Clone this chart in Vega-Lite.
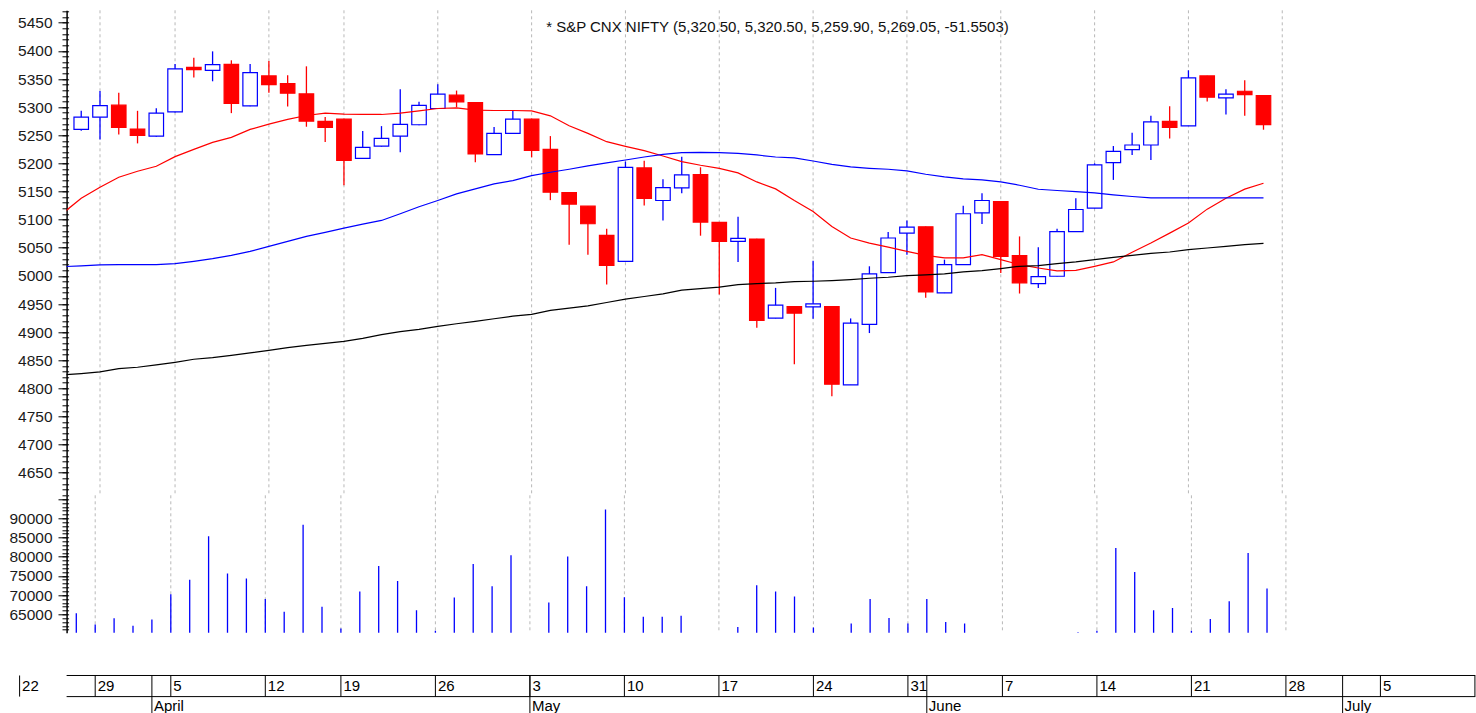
{
  "$schema": "https://vega.github.io/schema/vega-lite/v6.json",
  "background": "white",
  "padding": {"left": 8.6, "top": 9.3, "right": 0, "bottom": 0},
  "config": {"view": {"stroke": null}, "font": "Liberation Sans"},
  "spacing": 0,
  "bounds": "flush",
  "datasets": {
    "nifty": [
      {"d":"2010-03-25","i":-1,"m20":5111,"m50":5016.5,"m200":4824},
      {"d":"2010-03-26","i":0,"o":5260.4,"h":5293.5,"l":5258,"c":5282.3,"v":65270,"m20":5138,"m50":5017.7,"m200":4826.4},
      {"d":"2010-03-29","i":1,"o":5282.3,"h":5328.9,"l":5242.7,"c":5302.9,"v":62380,"m20":5157.7,"m50":5019.5,"m200":4829.3},
      {"d":"2010-03-30","i":2,"o":5303.5,"h":5325.4,"l":5251.6,"c":5264.0,"v":63960,"m20":5175.4,"m50":5020.1,"m200":4835.2},
      {"d":"2010-03-31","i":3,"o":5261.0,"h":5293.5,"l":5235.6,"c":5249.8,"v":62030,"m20":5186,"m50":5020,"m200":4837.6},
      {"d":"2010-04-01","i":4,"o":5248.6,"h":5298.2,"l":5247.5,"c":5289.4,"v":63690,"m20":5194.9,"m50":5020,"m200":4841.7},
      {"d":"2010-04-05","i":5,"o":5291.7,"h":5376.8,"l":5290.5,"c":5367.9,"v":70250,"m20":5212,"m50":5021.8,"m200":4846.4},
      {"d":"2010-04-06","i":6,"o":5370.9,"h":5388.0,"l":5352.6,"c":5366.7,"v":74010,"m20":5225,"m50":5026,"m200":4851.8},
      {"d":"2010-04-07","i":7,"o":5365.5,"h":5399.2,"l":5346.0,"c":5375.6,"v":85370,"m20":5237.4,"m50":5030.7,"m200":4854.7},
      {"d":"2010-04-08","i":8,"o":5376.2,"h":5383.3,"l":5289.4,"c":5306.5,"v":75670,"m20":5246.3,"m50":5036.6,"m200":4858.8},
      {"d":"2010-04-09","i":9,"o":5302.4,"h":5376.8,"l":5301.5,"c":5361.4,"v":74360,"m20":5260.4,"m50":5043.7,"m200":4863},
      {"d":"2010-04-12","i":10,"o":5355.5,"h":5382.0,"l":5325.4,"c":5340.2,"v":69020,"m20":5269.9,"m50":5052.5,"m200":4867.7},
      {"d":"2010-04-13","i":11,"o":5341.9,"h":5356.7,"l":5301.2,"c":5324.8,"v":65700,"m20":5278.2,"m50":5061.4,"m200":4872.4},
      {"d":"2010-04-15","i":12,"o":5323.6,"h":5372.6,"l":5265.2,"c":5275.2,"v":88340,"m20":5285.2,"m50":5070.2,"m200":4876.6},
      {"d":"2010-04-16","i":13,"o":5274.6,"h":5282.3,"l":5238.0,"c":5264.0,"v":67010,"m20":5289.4,"m50":5077.3,"m200":4880.1},
      {"d":"2010-04-19","i":14,"o":5278.7,"h":5279.5,"l":5161.2,"c":5205.5,"v":61330,"m20":5287.6,"m50":5085,"m200":4883.6},
      {"d":"2010-04-20","i":15,"o":5209.0,"h":5257.5,"l":5208.0,"c":5228.5,"v":70950,"m20":5287,"m50":5092,"m200":4889},
      {"d":"2010-04-21","i":16,"o":5230.9,"h":5266.3,"l":5230.0,"c":5244.5,"v":77590,"m20":5287,"m50":5098.6,"m200":4895.5},
      {"d":"2010-04-22","i":17,"o":5248.6,"h":5331.9,"l":5219.7,"c":5269.3,"v":73660,"m20":5289.4,"m50":5110.5,"m200":4900.8},
      {"d":"2010-04-23","i":18,"o":5268.7,"h":5309.4,"l":5268.0,"c":5303.0,"v":66050,"m20":5293.5,"m50":5122.9,"m200":4904.9},
      {"d":"2010-04-26","i":19,"o":5297.6,"h":5340.7,"l":5297.0,"c":5323.0,"v":60720,"m20":5297.6,"m50":5134.1,"m200":4910.2},
      {"d":"2010-04-27","i":20,"o":5321.3,"h":5329.5,"l":5300.0,"c":5309.4,"v":69370,"m20":5298.8,"m50":5145.9,"m200":4915},
      {"d":"2010-04-28","i":21,"o":5308.3,"h":5309.0,"l":5202.0,"c":5216.7,"v":78110,"m20":5294.7,"m50":5154.7,"m200":4919.1},
      {"d":"2010-04-29","i":22,"o":5215.6,"h":5264.6,"l":5215.0,"c":5253.4,"v":72350,"m20":5294.1,"m50":5163.6,"m200":4923.8},
      {"d":"2010-04-30","i":23,"o":5253.4,"h":5293.5,"l":5253.0,"c":5278.7,"v":80390,"m20":5294.1,"m50":5169.5,"m200":4928.5},
      {"d":"2010-05-03","i":24,"o":5278.7,"h":5279.5,"l":5210.8,"c":5223.2,"v":59000,"m20":5293.5,"m50":5178.4,"m200":4931.5},
      {"d":"2010-05-04","i":25,"o":5225.0,"h":5248.6,"l":5134.7,"c":5148.8,"v":68060,"m20":5284.6,"m50":5184.3,"m200":4938.6},
      {"d":"2010-05-05","i":26,"o":5148.2,"h":5149.0,"l":5055.5,"c":5127.6,"v":80040,"m20":5266.9,"m50":5189.6,"m200":4942.7},
      {"d":"2010-05-06","i":27,"o":5124.0,"h":5124.5,"l":5037.8,"c":5092.7,"v":72350,"m20":5253.4,"m50":5195.5,"m200":4946.8},
      {"d":"2010-05-07","i":28,"o":5072.0,"h":5083.9,"l":4984.6,"c":5018.9,"v":92270,"m20":5238.6,"m50":5200.8,"m200":4952.7},
      {"d":"2010-05-10","i":29,"o":5026.0,"h":5203.2,"l":5025.0,"c":5193.1,"v":69460,"m20":5230.3,"m50":5206.1,"m200":4958.6},
      {"d":"2010-05-11","i":30,"o":5191.9,"h":5204.9,"l":5125.2,"c":5137.6,"v":64390,"m20":5222.6,"m50":5211.4,"m200":4963.4},
      {"d":"2010-05-12","i":31,"o":5134.1,"h":5171.9,"l":5098.6,"c":5157.1,"v":64390,"m20":5213.2,"m50":5216.1,"m200":4968.1},
      {"d":"2010-05-13","i":32,"o":5156.5,"h":5212.0,"l":5147.0,"c":5179.5,"v":64650,"m20":5203.2,"m50":5219.1,"m200":4974.6},
      {"d":"2010-05-14","i":33,"o":5180.1,"h":5193.1,"l":5071.5,"c":5095.7,"v":59000,"m20":5196.7,"m50":5219.7,"m200":4977.5},
      {"d":"2010-05-17","i":34,"o":5095.1,"h":5095.5,"l":4966.9,"c":5061.4,"v":59000,"m20":5191.3,"m50":5219.1,"m200":4979.9},
      {"d":"2010-05-18","i":35,"o":5061.4,"h":5105.1,"l":5024.8,"c":5066.8,"v":61680,"m20":5183.1,"m50":5217.9,"m200":4984.6},
      {"d":"2010-05-19","i":36,"o":5065.6,"h":5066.0,"l":4907.9,"c":4920.8,"v":72610,"m20":5167.1,"m50":5215,"m200":4986.4},
      {"d":"2010-05-20","i":37,"o":4925.0,"h":4978.7,"l":4924.5,"c":4948.0,"v":70950,"m20":5154.7,"m50":5211.4,"m200":4987.6},
      {"d":"2010-05-21","i":38,"o":4945.6,"h":4946.0,"l":4842.9,"c":4933.8,"v":69640,"m20":5134.1,"m50":5209.7,"m200":4989.9},
      {"d":"2010-05-24","i":39,"o":4945.1,"h":5027.1,"l":4923.8,"c":4950.4,"v":61600,"m20":5114.6,"m50":5204.3,"m200":4990.5},
      {"d":"2010-05-25","i":40,"o":4945.6,"h":4946.0,"l":4786.2,"c":4807.5,"v":59000,"m20":5088,"m50":5198.4,"m200":4991.7},
      {"d":"2010-05-26","i":41,"o":4806.3,"h":4924.4,"l":4806.0,"c":4916.1,"v":62640,"m20":5067.3,"m50":5193.7,"m200":4993.5},
      {"d":"2010-05-27","i":42,"o":4913.8,"h":5017.1,"l":4898.4,"c":5003.5,"v":69020,"m20":5058.4,"m50":5191.3,"m200":4995.8},
      {"d":"2010-05-28","i":43,"o":5005.9,"h":5078.0,"l":5005.0,"c":5067.4,"v":64040,"m20":5051.3,"m50":5189.6,"m200":4997.6},
      {"d":"2010-05-31","i":44,"o":5076.2,"h":5098.6,"l":5037.8,"c":5086.8,"v":62640,"m20":5043.7,"m50":5186.6,"m200":5000.6},
      {"d":"2010-06-01","i":45,"o":5087.4,"h":5088.0,"l":4961.0,"c":4971.6,"v":69020,"m20":5036.6,"m50":5180.7,"m200":5001.7},
      {"d":"2010-06-02","i":46,"o":4969.9,"h":5028.9,"l":4969.5,"c":5020.1,"v":62990,"m20":5031.9,"m50":5176,"m200":5003.5},
      {"d":"2010-06-03","i":47,"o":5020.1,"h":5124.6,"l":5019.5,"c":5110.5,"v":62640,"m20":5031.9,"m50":5172.5,"m200":5007.1},
      {"d":"2010-06-04","i":48,"o":5112.2,"h":5147.0,"l":5092.1,"c":5134.1,"v":59000,"m20":5037.8,"m50":5170.7,"m200":5009.4},
      {"d":"2010-06-07","i":49,"o":5132.3,"h":5133.0,"l":5005.3,"c":5034.8,"v":59000,"m20":5028.9,"m50":5167.1,"m200":5013},
      {"d":"2010-06-08","i":50,"o":5036.0,"h":5070.2,"l":4968.7,"c":4987.6,"v":59000,"m20":5020,"m50":5161.2,"m200":5017.1},
      {"d":"2010-06-09","i":51,"o":4986.4,"h":5050.8,"l":4978.7,"c":4998.8,"v":59000,"m20":5014.1,"m50":5154.1,"m200":5018.3},
      {"d":"2010-06-10","i":52,"o":4999.4,"h":5083.9,"l":4999.0,"c":5078.6,"v":59000,"m20":5008.8,"m50":5151.8,"m200":5021.8},
      {"d":"2010-06-11","i":53,"o":5078.6,"h":5138.2,"l":5078.0,"c":5118.1,"v":60370,"m20":5010,"m50":5150,"m200":5024.8},
      {"d":"2010-06-14","i":54,"o":5120.5,"h":5200.2,"l":5120.0,"c":5197.3,"v":60720,"m20":5017.1,"m50":5147.7,"m200":5028.9},
      {"d":"2010-06-15","i":55,"o":5201.4,"h":5230.9,"l":5170.7,"c":5221.5,"v":82310,"m20":5024.8,"m50":5144.1,"m200":5033},
      {"d":"2010-06-16","i":56,"o":5224.4,"h":5254.5,"l":5215.0,"c":5232.7,"v":76020,"m20":5041.9,"m50":5141.2,"m200":5036.6},
      {"d":"2010-06-17","i":57,"o":5232.7,"h":5284.6,"l":5206.1,"c":5274.0,"v":66050,"m20":5058.4,"m50":5138.8,"m200":5040.1},
      {"d":"2010-06-18","i":58,"o":5274.6,"h":5301.8,"l":5244.5,"c":5264.0,"v":66660,"m20":5076.1,"m50":5138.8,"m200":5042.5},
      {"d":"2010-06-21","i":59,"o":5266.9,"h":5365.5,"l":5266.5,"c":5352.0,"v":60720,"m20":5093.9,"m50":5138.8,"m200":5046.6},
      {"d":"2010-06-22","i":60,"o":5355.5,"h":5356.0,"l":5310.0,"c":5317.7,"v":63780,"m20":5118.7,"m50":5138.8,"m200":5049.6},
      {"d":"2010-06-23","i":61,"o":5316.5,"h":5331.9,"l":5287.0,"c":5323.0,"v":68410,"m20":5138.2,"m50":5138.8,"m200":5052.5},
      {"d":"2010-06-24","i":62,"o":5328.3,"h":5347.8,"l":5284.6,"c":5322.4,"v":81000,"m20":5154.2,"m50":5138.8,"m200":5055.5},
      {"d":"2010-06-25","i":63,"o":5320.5,"h":5320.5,"l":5259.9,"c":5269.05,"v":71730,"m20":5164.8,"m50":5138.8,"m200":5057.8}
    ],
    "weeks": [
      {"i":-3,"label":"22"},{"i":1,"label":"29"},{"i":5,"label":"5"},{"i":10,"label":"12"},
      {"i":14,"label":"19"},{"i":19,"label":"26"},{"i":24,"label":"3"},{"i":29,"label":"10"},
      {"i":34,"label":"17"},{"i":39,"label":"24"},{"i":44,"label":"31"},{"i":49,"label":"7"},
      {"i":54,"label":"14"},{"i":59,"label":"21"},{"i":64,"label":"28"},{"i":69,"label":"5"},
      {"i":74,"label":""}
    ],
    "months": [
      {"i":4,"label":"April"},{"i":24,"label":"May"},{"i":45,"label":"June"},{"i":67,"label":"July"}
    ],
    "caption": [
      {"t":"* S&P CNX NIFTY (5,320.50, 5,320.50, 5,259.90, 5,269.05, -51.5503)","i":37.1,"p":5434.4}
    ]
  },
  "vconcat": [
    {
      "width": 1408.7,
      "height": 484.7,
      "resolve": {"axis": {"y": "independent"}},
      "layer": [
        {
          "data": {"name": "weeks"},
          "transform": [{"filter": "datum.i >= 0 && datum.i <= 64"}],
          "mark": {"type": "rule", "color": "#b8b8b8", "strokeWidth": 1, "strokeDash": [3, 3]},
          "encoding": {
            "x": {
              "field": "i", "type": "quantitative",
              "scale": {"domain": [-0.513, 74.02], "nice": false, "zero": false},
              "axis": null
            }
          }
        },
        {
          "data": {"name": "nifty"},
          "transform": [{"filter": "isValid(datum.o)"}],
          "mark": {"type": "rule", "strokeWidth": 1.3},
          "encoding": {
            "x": {"field": "i", "type": "quantitative", "axis": null},
            "y": {
              "field": "l", "type": "quantitative",
              "scale": {"domain": [4610.5, 5472.2], "nice": false, "zero": false},
              "axis": {
                "orient": "left",
                "values": [4650,4700,4750,4800,4850,4900,4950,5000,5050,5100,5150,5200,5250,5300,5350,5400,5450],
                "format": "d", "title": null, "grid": false,
                "tickSize": 8.6, "tickColor": "#000000", "tickWidth": 1,
                "domainColor": "#000000", "domainWidth": 1.5,
                "labelPadding": 6, "labelFontSize": 15.5, "labelFont": "Liberation Sans",
                "labelColor": "#1a1a1a", "labelFlush": false, "labelOverlap": false, "labelBound": false
              }
            },
            "y2": {"field": "h"},
            "color": {"condition": {"test": "datum.c >= datum.o", "value": "#0000ff"}, "value": "#ff0000"}
          }
        },
        {
          "data": {"name": "nifty"},
          "transform": [{"filter": "isValid(datum.o)"}],
          "mark": {"type": "bar", "size": 14.5, "strokeWidth": 1.2},
          "encoding": {
            "x": {"field": "i", "type": "quantitative", "axis": null},
            "y": {
              "field": "o", "type": "quantitative",
              "axis": {
                "orient": "left", "offset": -2,
                "values": [4620,4630,4640,4650,4660,4670,4680,4690,4700,4710,4720,4730,4740,4750,4760,4770,4780,4790,4800,4810,4820,4830,4840,4850,4860,4870,4880,4890,4900,4910,4920,4930,4940,4950,4960,4970,4980,4990,5000,5010,5020,5030,5040,5050,5060,5070,5080,5090,5100,5110,5120,5130,5140,5150,5160,5170,5180,5190,5200,5210,5220,5230,5240,5250,5260,5270,5280,5290,5300,5310,5320,5330,5340,5350,5360,5370,5380,5390,5400,5410,5420,5430,5440,5450,5460,5470],
                "labels": false, "domain": false, "grid": false, "title": null,
                "tickSize": 6.6, "tickColor": "#000000", "tickWidth": 1
              }
            },
            "y2": {"field": "c"},
            "fill": {"condition": {"test": "datum.c >= datum.o", "value": "#ffffff"}, "value": "#ff0000"},
            "stroke": {"condition": {"test": "datum.c >= datum.o", "value": "#0000ff"}, "value": "#ff0000"}
          }
        },
        {
          "data": {"name": "nifty"},
          "mark": {"type": "line", "color": "#ff0000", "strokeWidth": 1.2, "clip": true},
          "encoding": {
            "x": {"field": "i", "type": "quantitative", "axis": null},
            "y": {"field": "m20", "type": "quantitative", "axis": null}
          }
        },
        {
          "data": {"name": "nifty"},
          "mark": {"type": "line", "color": "#0000ff", "strokeWidth": 1.2, "clip": true},
          "encoding": {
            "x": {"field": "i", "type": "quantitative", "axis": null},
            "y": {"field": "m50", "type": "quantitative", "axis": null}
          }
        },
        {
          "data": {"name": "nifty"},
          "mark": {"type": "line", "color": "#000000", "strokeWidth": 1.2, "clip": true},
          "encoding": {
            "x": {"field": "i", "type": "quantitative", "axis": null},
            "y": {"field": "m200", "type": "quantitative", "axis": null}
          }
        },
        {
          "data": {"name": "caption"},
          "mark": {"type": "text", "align": "center", "baseline": "alphabetic", "fontSize": 15, "font": "Liberation Sans", "color": "#111111"},
          "encoding": {
            "x": {"field": "i", "type": "quantitative", "axis": null},
            "y": {"field": "p", "type": "quantitative", "axis": null},
            "text": {"field": "t"}
          }
        }
      ]
    },
    {
      "width": 1408.7,
      "height": 137.5,
      "resolve": {"axis": {"y": "independent"}},
      "layer": [
        {
          "data": {"name": "weeks"},
          "transform": [{"filter": "datum.i >= 0 && datum.i <= 64"}],
          "mark": {"type": "rule", "color": "#b8b8b8", "strokeWidth": 1, "strokeDash": [3, 3]},
          "encoding": {
            "x": {
              "field": "i", "type": "quantitative",
              "scale": {"domain": [-0.513, 74.02], "nice": false, "zero": false},
              "axis": null
            }
          }
        },
        {
          "data": {"name": "nifty"},
          "transform": [{"filter": "isValid(datum.v)"}],
          "mark": {"type": "rule", "color": "#0000ff", "strokeWidth": 1.3, "clip": true},
          "encoding": {
            "x": {"field": "i", "type": "quantitative", "axis": null},
            "y": {
              "field": "v", "type": "quantitative",
              "scale": {"domain": [60200, 96000], "nice": false, "zero": false},
              "axis": {
                "orient": "left",
                "values": [65000,70000,75000,80000,85000,90000,95000],
                "format": "d",
                "labelExpr": "datum.value >= 95000 ? '' : datum.label",
                "title": null, "grid": false,
                "tickSize": 8.6, "tickColor": "#000000", "tickWidth": 1,
                "domainColor": "#000000", "domainWidth": 1.5,
                "labelPadding": 6, "labelFontSize": 15.5, "labelFont": "Liberation Sans",
                "labelColor": "#1a1a1a", "labelFlush": false, "labelOverlap": false, "labelBound": false
              }
            },
            "y2": {"datum": 0}
          }
        },
        {
          "data": {"name": "nifty"},
          "transform": [{"filter": "isValid(datum.v)"}],
          "mark": {"type": "rule", "opacity": 0},
          "encoding": {
            "x": {"field": "i", "type": "quantitative", "axis": null},
            "y": {
              "field": "v", "type": "quantitative",
              "axis": {
                "orient": "left", "offset": -2,
                "values": [61000,62000,63000,64000,65000,66000,67000,68000,69000,70000,71000,72000,73000,74000,75000,76000,77000,78000,79000,80000,81000,82000,83000,84000,85000,86000,87000,88000,89000,90000,91000,92000,93000,94000,95000,96000],
                "labels": false, "domain": false, "grid": false, "title": null,
                "tickSize": 6.6, "tickColor": "#000000", "tickWidth": 1
              }
            }
          }
        }
      ]
    },
    {
      "width": 1408.7,
      "height": 84.4,
      "layer": [
        {
          "data": {"values": [{}]},
          "mark": {"type": "rule", "color": "#000000", "strokeWidth": 1},
          "encoding": {
            "x": {"datum": -0.513, "type": "quantitative", "scale": {"domain": [-0.513, 74.02], "nice": false, "zero": false}, "axis": null},
            "x2": {"datum": 74.02},
            "y": {"datum": 2, "type": "quantitative", "scale": {"domain": [0, 4], "nice": false, "zero": false}, "axis": null}
          }
        },
        {
          "data": {"values": [{}]},
          "mark": {"type": "rule", "color": "#000000", "strokeWidth": 1},
          "encoding": {
            "x": {"datum": -0.513, "type": "quantitative", "axis": null},
            "x2": {"datum": 74.02},
            "y": {"datum": 1, "type": "quantitative", "axis": null}
          }
        },
        {
          "data": {"name": "weeks"},
          "mark": {"type": "rule", "color": "#000000", "strokeWidth": 1},
          "encoding": {
            "x": {"field": "i", "type": "quantitative", "axis": null},
            "y": {"datum": 1, "type": "quantitative", "axis": null},
            "y2": {"datum": 2}
          }
        },
        {
          "data": {"name": "weeks"},
          "mark": {"type": "text", "align": "left", "baseline": "middle", "dx": 2.5, "fontSize": 15, "font": "Liberation Sans", "color": "#000000"},
          "encoding": {
            "x": {"field": "i", "type": "quantitative", "axis": null},
            "y": {"datum": 1.5, "type": "quantitative", "axis": null},
            "text": {"field": "label"}
          }
        },
        {
          "data": {"name": "months"},
          "mark": {"type": "rule", "color": "#000000", "strokeWidth": 1},
          "encoding": {
            "x": {"field": "i", "type": "quantitative", "axis": null},
            "y": {"datum": -0.3, "type": "quantitative", "axis": null},
            "y2": {"datum": 2}
          }
        },
        {
          "data": {"name": "months"},
          "mark": {"type": "text", "align": "left", "baseline": "middle", "dx": 2, "fontSize": 15, "font": "Liberation Sans", "color": "#000000"},
          "encoding": {
            "x": {"field": "i", "type": "quantitative", "axis": null},
            "y": {"datum": 0.55, "type": "quantitative", "axis": null},
            "text": {"field": "label"}
          }
        }
      ]
    }
  ]
}
